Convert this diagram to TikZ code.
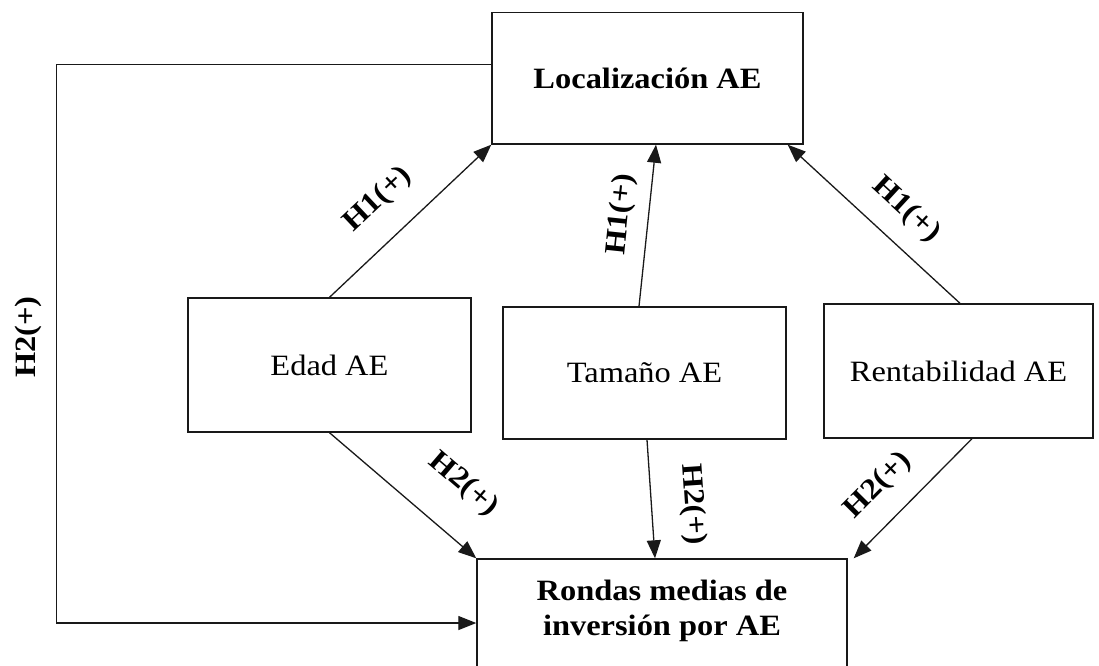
\documentclass[tikz,border=0pt]{standalone}
\usepackage{fontspec}
\setmainfont{Liberation Serif}[FakeStretch=1.1]
\usetikzlibrary{arrows.meta}
\begin{document}
\begin{tikzpicture}[x=1pt,y=-1pt,
  box/.style={draw=black!90, line width=1.4pt, inner sep=0pt,
    font=\fontsize{29.5}{35}\selectfont},
  boldbox/.style={box, font=\fontsize{29.5}{35}\selectfont\bfseries},
  arr/.style={draw=black!90, line width=1.3pt,
    -{Triangle[length=18pt,width=14pt]}},
  hyp/.style={font=\fontsize{29.5}{35}\selectfont\bfseries, inner sep=0pt, sloped}
]
\useasboundingbox (0,0) rectangle (1099,665);
\clip (0,0) rectangle (1099,665);

% boxes
\node[boldbox, minimum width=311pt, minimum height=131.5pt] (loc) at (647.5,78.25) {Localización AE};
\node[box, minimum width=283pt, minimum height=134pt] (edad) at (329.5,365) {Edad AE};
\node[box, minimum width=283pt, minimum height=132pt] (tam) at (644.5,373) {Tamaño AE};
\node[box, minimum width=269pt, minimum height=134pt] (rent) at (958.5,371) {Rentabilidad AE};
\node[box, minimum width=370pt, minimum height=141pt] (ronda) at (662,629.5) {};
\node[font=\fontsize{29.5}{35}\selectfont\bfseries, align=center, inner sep=0pt] (rondatxt) at (662,611)
  {Rondas medias de\\inversión por AE};

% H1 arrows
\draw[arr] (edad.north) -- node[hyp, pos=0.46, above=24pt] (h1a) {H1(+)} (loc.south west);
\draw[arr] ([xshift=-5.5pt]tam.north) -- node[hyp, pos=0.55, above=13pt] (h1b) {H1(+)} ([xshift=8.5pt]loc.south);
\draw[arr] ([xshift=1.5pt]rent.north) -- node[hyp, pos=0.44, above=18pt] (h1c) {H1(+)} ([xshift=-16pt]loc.south east);

% H2 arrows
\draw[arr] (edad.south) -- node[hyp, pos=0.70, above=34pt] (h2a) {H2(+)} (ronda.north west);
\draw[arr] ([xshift=2.5pt]tam.south) -- node[hyp, pos=0.57, above=27pt] (h2b) {H2(+)} ([xshift=-7pt]ronda.north);
\draw[arr] ([xshift=13.5pt]rent.south) -- node[hyp, pos=0.59, above=20pt] (h2c) {H2(+)} ([xshift=6pt]ronda.north east);

% direct link around the left side
\draw[arr] ([yshift=14pt]loc.west) -- ++(-435,0) |- ([yshift=6.5pt]ronda.west);
\node[font=\fontsize{29.5}{35}\selectfont\bfseries, inner sep=0pt, rotate=90] (h2d) at (28,337) {H2(+)};
\end{tikzpicture}
\end{document}
